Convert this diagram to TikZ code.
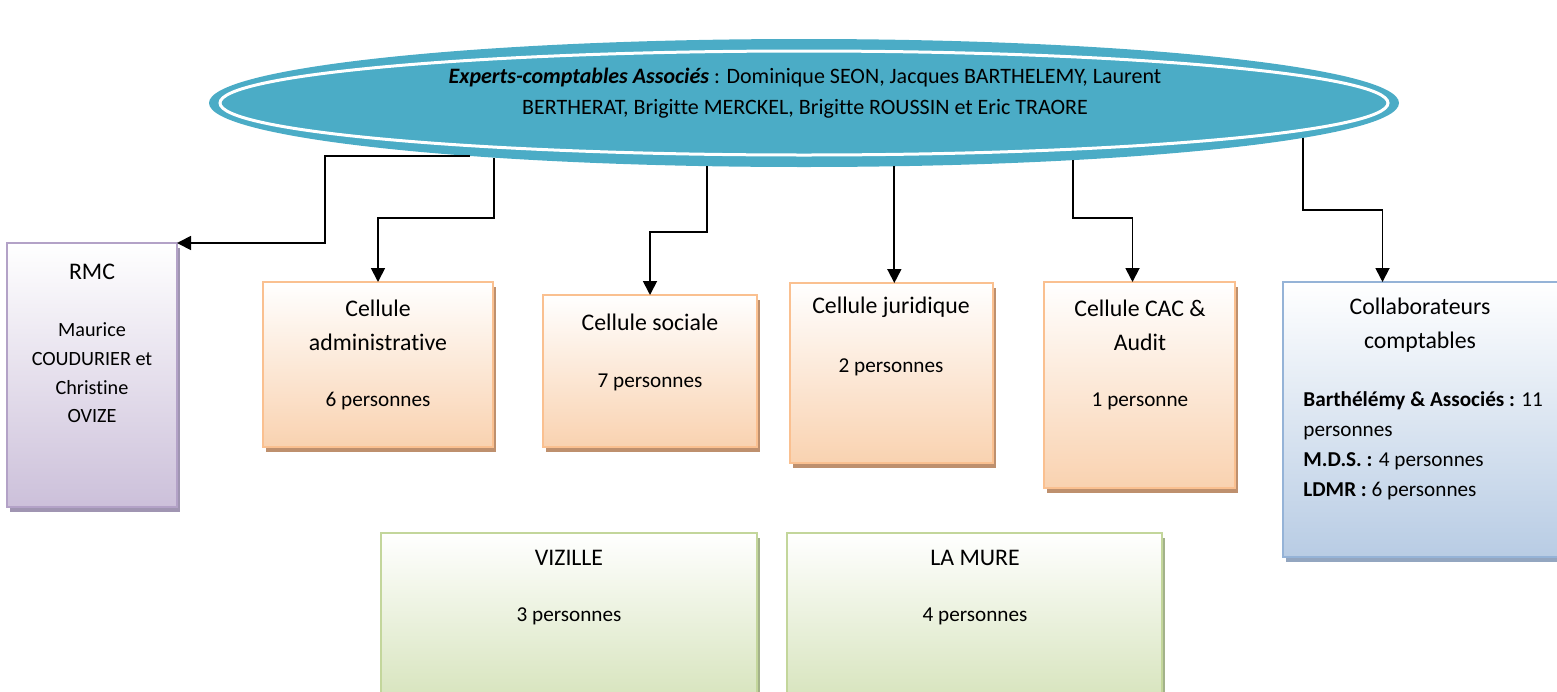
\documentclass[tikz,border=0pt]{standalone}
\usepackage{fontspec}
\setmainfont[Ligatures={NoCommon}]{Carlito}
\usepackage{xcolor}
\usepackage{tikz}
\usetikzlibrary{shapes.geometric, arrows.meta, fit, shadows}

\definecolor{assocblue}{HTML}{4BACC6}
\definecolor{orline}{HTML}{FAC090}
\definecolor{orfill}{HTML}{F9D2B0}
\definecolor{orshade}{HTML}{BE906E}
\definecolor{pline}{HTML}{B3A2C7}
\definecolor{pfill}{HTML}{CCC0DA}
\definecolor{pshade}{HTML}{A095B2}
\definecolor{bline}{HTML}{95B3D7}
\definecolor{bfill}{HTML}{B8CCE4}
\definecolor{bshade}{HTML}{93A6C0}
\definecolor{gline}{HTML}{C3D69B}
\definecolor{gfill}{HTML}{D7E4BD}
\definecolor{gshade}{HTML}{A3B28A}

\tikzstyle{boxbase}  = [rectangle, inner sep=0, outer sep=0, line width=1.2pt, top color=white]
\tikzstyle{cellbox}  = [boxbase, draw=orline, bottom color=orfill, drop shadow={shadow xshift=1.5pt, shadow yshift=-2.5pt, fill=orshade, opacity=1}]
\tikzstyle{rmcbox}   = [boxbase, draw=pline, bottom color=pfill, drop shadow={shadow xshift=1.5pt, shadow yshift=-2.5pt, fill=pshade, opacity=1}]
\tikzstyle{collbox}  = [boxbase, draw=bline, bottom color=bfill, drop shadow={shadow xshift=1.5pt, shadow yshift=-2.5pt, fill=bshade, opacity=1}]
\tikzstyle{sitebox}  = [boxbase, draw=gline, bottom color=gfill, drop shadow={shadow xshift=1.5pt, shadow yshift=-2.5pt, fill=gshade, opacity=1}]
\tikzstyle{head}     = [inner sep=0, align=center, font=\fontsize{11.9}{17}\selectfont]
\tikzstyle{count}    = [inner sep=0, align=center, font=\fontsize{10.6}{15}\selectfont]
\tikzstyle{names}    = [inner sep=0, align=center, font=\fontsize{10.1}{14.3}\selectfont]
\tikzstyle{arrow}    = [line width=0.9pt, -{Triangle[length=7pt, width=7pt]}]

\begin{document}
\begin{tikzpicture}[x=0.5pt, y=-0.5pt]
    \useasboundingbox (0,0) rectangle (1557,691);

    % partners
    \node (assoc) at (804,103) [ellipse, minimum width=595pt, minimum height=64pt, inner sep=0, outer sep=0, fill=assocblue] {};
    \draw [white, line width=1.5pt] (assoc.center) ellipse [x radius=292pt, y radius=26pt];
    \node (assoctxt) at (805,93) [inner sep=0, align=center, font=\fontsize{11}{15.5}\selectfont]
        {\textbf{\textit{Experts-comptables Associés}} : Dominique SEON, Jacques BARTHELEMY, Laurent\\BERTHERAT, Brigitte MERCKEL, Brigitte ROUSSIN et Eric TRAORE};

    % boxes
    \node (rmc) [rmcbox,  fit={(7,243) (177,507)}]    {};
    \node (adm) [cellbox, fit={(263,282) (493,447)}]  {};
    \node (soc) [cellbox, fit={(543,295) (757,447)}]  {};
    \node (jur) [cellbox, fit={(790,283) (993,463)}]  {};
    \node (cac) [cellbox, fit={(1044,282) (1235,488)}] {};
    \node (col) [collbox, fit={(1283,282) (1562,557)}] {};
    \node (viz) [sitebox, fit={(381,533) (757,700)}]  {};
    \node (mur) [sitebox, fit={(787,533) (1162,700)}] {};

    \node (rmchd) at (92,272)   [head]  {RMC};
    \node (rmcnm) at (92,373)   [names] {Maurice\\COUDURIER et\\Christine\\OVIZE};
    \node (admhd) at (378,325)  [head]  {Cellule\\administrative};
    \node (admnb) at (378,401)  [count] {6 personnes};
    \node (sochd) at (650,322)  [head]  {Cellule sociale};
    \node (socnb) at (650,382)  [count] {7 personnes};
    \node (jurhd) at (891,307)  [head]  {Cellule juridique};
    \node (jurnb) at (891,367)  [count] {2 personnes};
    \node (cachd) at (1140,325) [head]  {Cellule CAC \&\\Audit};
    \node (cacnb) at (1140,401) [count] {1 personne};
    \node (colhd) at (1420,325) [head]  {Collaborateurs\\comptables};
    \node (colnb) at (1303,446) [count, anchor=west, align=left]
        {\textbf{Barthélémy \& Associés :} 11\\personnes\\\textbf{M.D.S. :} 4 personnes\\\textbf{LDMR :} 6 personnes};
    \node (vizhd) at (569,558)  [head]  {VIZILLE};
    \node (viznb) at (569,616)  [count] {3 personnes};
    \node (murhd) at (975,558)  [head]  {LA MURE};
    \node (murnb) at (975,616)  [count] {4 personnes};

    % links from the partners
    \draw [arrow] (assoc.189) -- ++(-145,0) |- (rmc.north east);
    \draw [arrow] (assoc.190) -- ++(0,60) -| (adm.north);
    \draw [arrow] (assoc.213) -- ++(0,66) -| (soc.north);
    \draw [arrow] (assoc.325) -- (assoc.325 |- jur.north);
    \draw [arrow] (assoc.348) -- ++(0,58) -| ([xshift=-3.5pt]cac.north);
    \draw [arrow] (assoc.356) -- ++(0,72) -| ([xshift=-20pt]col.north);
\end{tikzpicture}
\end{document}
